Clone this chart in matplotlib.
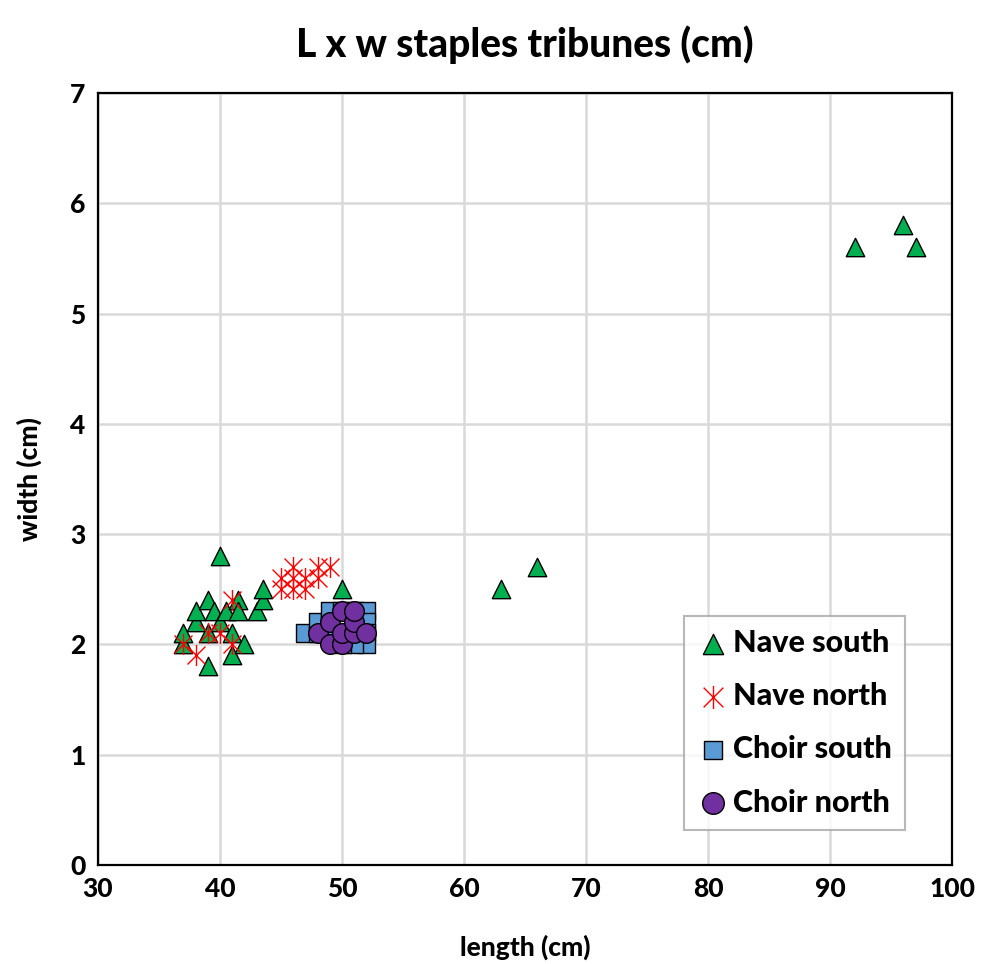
"""L x w scatter of staples from the tribunes."""

import matplotlib.pyplot as plt
from matplotlib.path import Path

plt.rcParams["font.family"] = ["Lato", "DejaVu Sans"]

# Nave south (triangles)
ns_len = [37, 37, 38, 38, 39, 39, 39, 39.5, 40, 40, 40.5, 41, 41, 41.5, 41.5,
          42, 43, 43.5, 43.5, 50, 63, 66, 92, 96, 97]
ns_wid = [2.0, 2.1, 2.2, 2.3, 2.4, 2.1, 1.8, 2.3, 2.8, 2.2, 2.3, 2.1, 1.9, 2.4, 2.3,
          2.0, 2.3, 2.4, 2.5, 2.5, 2.5, 2.7, 5.6, 5.8, 5.6]

# Nave north (asterisks)
nn_len = [37, 38, 39, 40, 41, 41, 45, 45, 46, 46, 46, 47, 47, 48, 48, 49]
nn_wid = [2.0, 1.9, 2.1, 2.1, 2.4, 2.0, 2.5, 2.6, 2.7, 2.6, 2.5, 2.6, 2.5, 2.7, 2.6, 2.7]

# Choir south (squares)
cs_len = [47, 48, 48, 49, 49, 50, 51, 52, 52, 52, 52, 51, 50, 49]
cs_wid = [2.1, 2.1, 2.2, 2.2, 2.3, 2.3, 2.3, 2.3, 2.2, 2.1, 2.0, 2.0, 2.0, 2.1]

# Choir north (circles)
cn_len = [48, 49, 49, 50, 50, 50, 51, 51, 51, 52]
cn_wid = [2.1, 2.0, 2.2, 2.0, 2.1, 2.3, 2.1, 2.2, 2.3, 2.1]

# asterisk marker: vertical bar plus an X
star = Path(
    [(0, -1), (0, 1), (-0.85, -0.85), (0.85, 0.85), (-0.85, 0.85), (0.85, -0.85)],
    [Path.MOVETO, Path.LINETO] * 3,
)

fig = plt.figure(figsize=(9.92, 9.64), dpi=100)
ax = fig.add_axes([0.0988, 0.1027, 0.861, 0.8008])

ax.scatter(ns_len, ns_wid, marker="^", s=175, color="#00B050",
           edgecolors="black", linewidths=1.0, label="Nave south", zorder=3)
ax.scatter(nn_len, nn_wid, marker=star, s=230, color="#FF0000",
           linewidths=1.0, label="Nave north", zorder=4)
ax.scatter(cs_len, cs_wid, marker="s", s=150, color="#5B9BD5",
           edgecolors="black", linewidths=1.0, label="Choir south", zorder=5)
ax.scatter(cn_len, cn_wid, marker="o", s=200, color="#7030A0",
           edgecolors="black", linewidths=1.0, label="Choir north", zorder=6)

ax.set_xlim(30, 100)
ax.set_ylim(0, 7)
ax.set_xticks(range(30, 101, 10))
ax.set_yticks(range(0, 8))
ax.grid(True, color="#D9D9D9", linewidth=1.8)
ax.set_axisbelow(True)
ax.tick_params(length=0, labelsize=19, pad=9)
for lbl in ax.get_xticklabels() + ax.get_yticklabels():
    lbl.set_fontweight("black")
for sp in ax.spines.values():
    sp.set_linewidth(1.6)
    sp.set_color("black")

ax.set_title("L x w staples tribunes (cm)", fontsize=28, fontweight="black", pad=26)
ax.set_xlabel("length (cm)", fontsize=19, fontweight="black", labelpad=24)
ax.set_ylabel("width (cm)", fontsize=19, fontweight="black", labelpad=20)

leg = ax.legend(loc="lower right", bbox_to_anchor=(0.945, 0.045),
                prop={"weight": "black", "size": 22}, frameon=True, fancybox=False,
                handletextpad=0.15, handlelength=1.0, borderpad=0.45,
                labelspacing=0.82, borderaxespad=0, markerscale=1.1)
leg.get_frame().set_edgecolor("#A6A6A6")
leg.get_frame().set_linewidth(1.5)

fig.savefig("out.png", dpi=100)
